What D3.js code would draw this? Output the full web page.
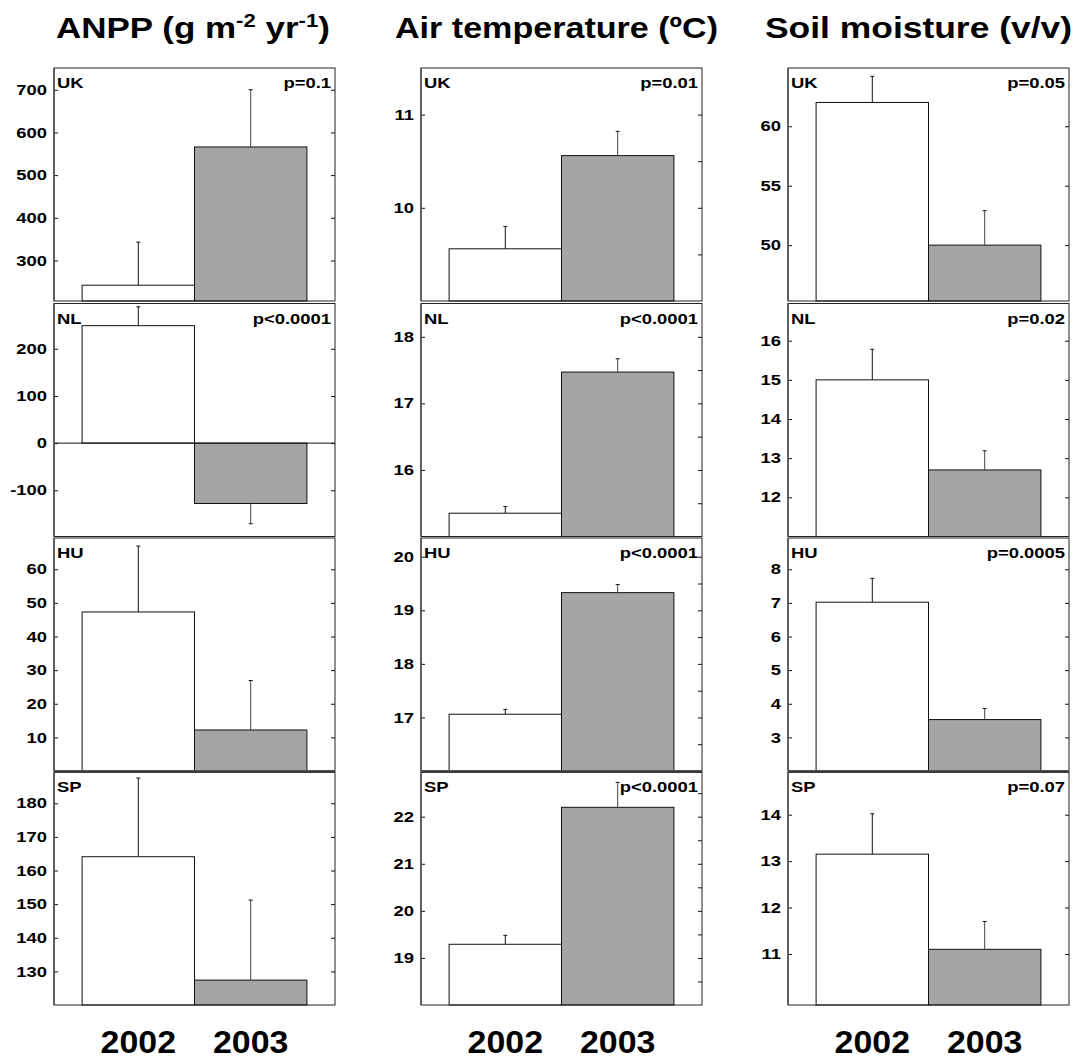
<!DOCTYPE html>
<html>
<head>
<meta charset="utf-8">
<script src="https://cdn.jsdelivr.net/npm/d3@7"></script>
<style>
  body { margin: 0; background: #fff; }
  svg { display: block; }
  text { font-family: "Liberation Sans", Arial, sans-serif; font-weight: bold; fill: #000; }
</style>
</head>
<body>
<svg id="chart" width="1077" height="1059"></svg>
<script>
// ---- data ----
var regions = ["UK", "NL", "HU", "SP"];
var years = ["2002", "2003"];

// ANPP (g m-2 yr-1)
var anppMean = [[242, 566], [249, -128], [47.3, 12.2], [164.1, 127.4]];
var anppErr = [[101, 134], [40, 43], [19.6, 14.7], [23.4, 23.8]];
var anppDomain = [[205, 751], [-198, 296], [0, 69.3], [120, 189.3]];
var anppTicks = [[300, 400, 500, 600, 700], [-100, 0, 100, 200], [10, 20, 30, 40, 50, 60], [130, 140, 150, 160, 170, 180]];
var anppP = ["p=0.1", "p<0.0001", "", ""];

// Air temperature (ºC)
var airMean = [[9.56, 10.56], [15.35, 17.47], [17.06, 19.33], [19.29, 22.2]];
var airErr = [[0.24, 0.26], [0.1, 0.2], [0.09, 0.15], [0.19, 0.53]];
var airDomain = [[9.0, 11.5], [15, 18.5], [16, 20.35], [18, 22.95]];
var airTicks = [[10, 11], [16, 17, 18], [17, 18, 19, 20], [19, 20, 21, 22]];
var airP = ["p=0.01", "p<0.0001", "p<0.0001", "p<0.0001"];

// Soil moisture (v/v)
var soilMean = [[62.0, 50.0], [15.0, 12.7], [7.02, 3.53], [13.15, 11.1]];
var soilErr = [[2.2, 2.9], [0.78, 0.49], [0.71, 0.33], [0.87, 0.6]];
var soilDomain = [[45.3, 64.9], [11, 16.95], [2, 8.93], [9.9, 14.92]];
var soilTicks = [[50, 55, 60], [12, 13, 14, 15, 16], [3, 4, 5, 6, 7, 8], [11, 12, 13, 14]];
var soilP = ["p=0.05", "p=0.02", "p=0.0005", "p=0.07"];

var columns = [
    { mean: anppMean, err: anppErr, domain: anppDomain, ticks: anppTicks, p: anppP, halfTicks: false },
    { mean: airMean, err: airErr, domain: airDomain, ticks: airTicks, p: airP, halfTicks: true },
    { mean: soilMean, err: soilErr, domain: soilDomain, ticks: soilTicks, p: soilP, halfTicks: false }
];

var barColor = ["#ffffff", "#a5a5a5"];

// ---- layout ----
var svg = d3.select("#chart");
var colLeft = [54, 421, 788],
    panelW = 281;
var rowTop = [68, 303.5, 538, 772],
    panelH = 233;
var sx = 1.3; // the source text is drawn a bit wide

function stretch(sel, k) {
    sel.each(function () {
        var w = this.getComputedTextLength();
        d3.select(this).attr("textLength", w * k).attr("lengthAdjust", "spacingAndGlyphs");
    });
}

var x = d3.scaleBand()
    .domain(years)
    .range([0, panelW])
    .paddingInner(0)
    .paddingOuter(0.25);

columns.forEach(function (col, c) {
    regions.forEach(function (reg, r) {
        var g = svg.append("g")
            .attr("transform", "translate(" + colLeft[c] + "," + rowTop[r] + ")");

        var y = d3.scaleLinear()
            .domain(col.domain[r])
            .range([panelH, 0]);

        var base = col.domain[r][0] > 0 ? col.domain[r][0] : 0;

        var rows = years.map(function (yr, i) {
            return { year: yr, i: i, v: col.mean[r][i], e: col.err[r][i] };
        });

        // bars
        g.selectAll(".bar")
            .data(rows)
            .enter()
            .append("rect")
            .attr("class", "bar")
            .attr("x", function (d) { return x(d.year); })
            .attr("width", x.bandwidth())
            .attr("y", function (d) { return y(Math.max(d.v, base)); })
            .attr("height", function (d) { return Math.abs(y(d.v) - y(base)); })
            .style("fill", function (d) { return barColor[d.i]; })
            .style("stroke", "#111")
            .style("stroke-width", 1);

        // error bars (one side only)
        var errG = g.selectAll(".err")
            .data(rows)
            .enter()
            .append("g")
            .attr("class", "err");
        errG.append("line")
            .attr("x1", function (d) { return x(d.year) + x.bandwidth() / 2; })
            .attr("x2", function (d) { return x(d.year) + x.bandwidth() / 2; })
            .attr("y1", function (d) { return y(d.v); })
            .attr("y2", function (d) { return y(d.v + (d.v < 0 ? -d.e : d.e)); })
            .style("stroke", function (d) { return d.i === 1 ? "#444" : "#111"; })
            .style("stroke-width", 1);
        errG.append("line")
            .attr("x1", function (d) { return x(d.year) + x.bandwidth() / 2 - 2; })
            .attr("x2", function (d) { return x(d.year) + x.bandwidth() / 2 + 2; })
            .attr("y1", function (d) { return y(d.v + (d.v < 0 ? -d.e : d.e)); })
            .attr("y2", function (d) { return y(d.v + (d.v < 0 ? -d.e : d.e)); })
            .style("stroke", "#111")
            .style("stroke-width", 1);

        // zero line when the axis crosses 0
        if (col.domain[r][0] < 0) {
            g.append("line")
                .attr("x1", 0).attr("x2", panelW)
                .attr("y1", y(0)).attr("y2", y(0))
                .style("stroke", "#111");
        }

        // left axis, ticks pointing in
        var yAxis = g.append("g")
            .call(d3.axisLeft(y).tickValues(col.ticks[r]).tickSizeInner(-4).tickSizeOuter(0).tickPadding(7)
                .tickFormat(function (d) { return String(d); }));
        yAxis.select(".domain").remove();
        yAxis.selectAll("line").style("stroke", "#111");
        yAxis.selectAll("text")
            .style("font-size", "14.5px")
            .style("font-family", "'Liberation Sans', Arial, sans-serif")
            .style("font-weight", "bold")
            .style("fill", "#000");
        stretch(yAxis.selectAll("text"), 1.27);

        // right axis, ticks pointing in (half steps for temperature)
        var rTicks = col.ticks[r].slice();
        if (col.halfTicks) {
            rTicks = [];
            col.ticks[r].forEach(function (t) { rTicks.push(t - 0.5, t); });
            rTicks.push(col.ticks[r][col.ticks[r].length - 1] + 0.5);
            rTicks = rTicks.filter(function (t) { return t > col.domain[r][0] && t < col.domain[r][1]; });
        }
        var rAxis = g.append("g")
            .attr("transform", "translate(" + panelW + ",0)")
            .call(d3.axisRight(y).tickValues(rTicks).tickSizeInner(-4).tickSizeOuter(0).tickFormat(""));
        rAxis.select(".domain").remove();
        rAxis.selectAll("line").style("stroke", "#111");

        // frame
        g.append("rect")
            .attr("x", 0).attr("y", 0)
            .attr("width", panelW).attr("height", panelH)
            .style("fill", "none")
            .style("stroke", "#222")
            .style("stroke-width", 1);
        g.append("line")
            .attr("x1", 0).attr("x2", 0)
            .attr("y1", 0).attr("y2", panelH)
            .style("stroke", "#555")
            .style("stroke-width", 1.6);
        if (r === 2) {
            // the HU / SP seam is drawn as a heavy grey rule
            g.append("line")
                .attr("x1", 0).attr("x2", panelW)
                .attr("y1", panelH + 0.5).attr("y2", panelH + 0.5)
                .style("stroke", "#555")
                .style("stroke-width", 3);
        }

        // region label and p value
        var lab = g.append("text")
            .attr("x", 3)
            .attr("y", 20)
            .style("font-size", "14.5px")
            .text(reg);
        stretch(lab, 1.27);

        if (col.p[r]) {
            var pt = g.append("text")
                .attr("x", panelW - 4)
                .attr("y", 20)
                .attr("text-anchor", "end")
                .style("font-size", "14.5px")
                .text(col.p[r]);
            stretch(pt, 1.27);
        }

        // year labels under the bottom row
        if (r === regions.length - 1) {
            var yl = g.selectAll(".yearLab")
                .data(years)
                .enter()
                .append("text")
                .attr("class", "yearLab")
                .attr("x", function (d) { return x(d) + x.bandwidth() / 2; })
                .attr("y", panelH + 48)
                .attr("text-anchor", "middle")
                .style("font-size", "32px")
                .text(function (d) { return d; });
            stretch(yl, 1.06);
        }
    });
});

// column titles
var titleX = [56, 395, 765],
    titleW = [274, 323, 307];

var t1 = svg.append("text").attr("x", titleX[0]).attr("y", 38).style("font-size", "30px");
t1.append("tspan").text("ANPP (g m");
t1.append("tspan").attr("dy", -11).style("font-size", "19px").text("-2");
t1.append("tspan").attr("dy", 11).text(" yr");
t1.append("tspan").attr("dy", -11).style("font-size", "19px").text("-1");
t1.append("tspan").attr("dy", 11).text(")");

var t2 = svg.append("text").attr("x", titleX[1]).attr("y", 38).style("font-size", "30px")
    .text("Air temperature (ºC)");
var t3 = svg.append("text").attr("x", titleX[2]).attr("y", 38).style("font-size", "30px")
    .text("Soil moisture (v/v)");

[t1, t2, t3].forEach(function (t, i) {
    t.attr("textLength", titleW[i]).attr("lengthAdjust", "spacingAndGlyphs");
});
</script>
</body>
</html>
